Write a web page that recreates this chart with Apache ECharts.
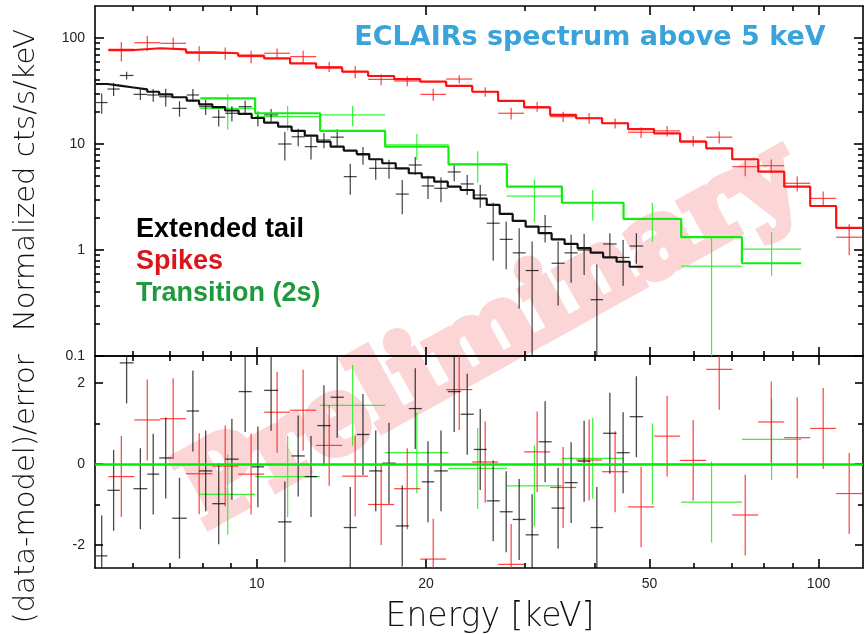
<!DOCTYPE html>
<html>
<head>
<meta charset="utf-8">
<script src="https://cdn.jsdelivr.net/npm/echarts@6/dist/echarts.min.js"></script>
<style>
  html, body { margin: 0; padding: 0; background: #ffffff; }
  #chart { width: 866px; height: 634px; }
</style>
</head>
<body>
<div id="chart"></div>
<script>
// ---- Extended tail (black) ----
const tailEdges = [5.17, 5.42, 5.70, 6.03, 6.38, 6.70, 7.07, 7.50, 7.89, 8.33, 8.78, 9.28, 9.79, 10.30,
  10.91, 11.53, 12.17, 12.81, 13.53, 14.28, 15.06, 15.85, 16.72, 17.67, 18.64, 19.66, 20.69, 21.87,
  23.06, 24.33, 25.66, 27.06, 28.54, 30.10, 31.74, 33.48, 35.31, 37.25, 39.28, 41.35, 43.70, 46.10, 48.72];
const tailFlux = [24.6, 33.0, 44.3, 29.4, 29.0, 27.9, 21.7, 29.0, 22.5, 17.9,
  19.5, 22.5, 17.5, 18.8, 10.0, 11.7, 9.44, 10.9, 11.6, 4.92,
  7.87, 5.90, 5.90, 3.37, 6.34, 4.02, 3.82, 5.45, 4.20, 3.30,
  1.79, 1.26, 0.94, 0.64, 1.66, 0.75, 0.94, 1.00, 0.34, 1.14, 0.85, 1.09];
const tailErr = [5.3, 4.6, 3.8, 3.4, 4.0, 5.3, 3.6, 4.0, 3.7, 3.3,
  3.2, 3.1, 2.8, 2.6, 3.0, 2.2, 2.3, 1.8, 2.2, 1.6,
  1.5, 1.3, 1.2, 1.2, 1.2, 1.0, 1.0, 1.0, 0.9, 0.8,
  1.0, 0.6, 0.66, 0.56, 0.48, 0.45, 0.45, 0.42, 0.39, 0.30, 0.39, 0.35];
const tailModel = [36.8, 35.6, 34.1, 32.7, 31.1, 29.4, 27.6, 25.7, 23.7, 22.3,
  20.7, 19.2, 17.6, 15.9, 14.6, 13.3, 12.0, 10.5, 9.44, 8.65,
  8.05, 7.18, 6.58, 5.90, 5.30, 4.85, 4.41, 3.96, 3.68, 3.06,
  2.66, 2.19, 1.88, 1.66, 1.44, 1.26, 1.14, 1.04, 0.943, 0.853, 0.775, 0.695];
const tailResid = [-2.27, -0.65, 2.5, -0.61, -0.25, 0.15, -1.34, 1.31, -0.17, -0.98,
  0.12, 1.79, -0.07, 1.82, -1.43, 0.2, -0.31, 0.95, 1.65, -1.57,
  0.73, -0.17, 0.02, -1.53, 1.37, -0.44, -0.17, 1.79, 1.23, 0.36,
  -0.91, -1.18, -1.37, -1.75, 0.55, -1.09, -0.46, 0.07, -1.57, 0.76, 0.28, 1.17];

// ---- Spikes (red) ----
const spikeEdges = [5.44, 6.05, 6.73, 7.48, 8.33, 9.26, 10.30, 11.46, 12.75, 14.19, 15.78, 17.56,
  19.54, 21.73, 24.18, 26.89, 29.91, 33.28, 37.02, 41.18, 45.81, 50.96, 56.70, 63.10, 70.20,
  78.10, 86.88, 96.65, 107.5, 119.6];
const spikeFlux = [75.9, 90.3, 89.1, 71.8, 71.8, 66.7, 71.8, 66.7, 53.6, 48.1,
  40.7, 39.3, 29.4, 41.0, 31.1, 19.5, 22.5, 18.1, 17.5, 15.7,
  12.9, 13.3, 10.7, 11.6, 6.11, 6.24, 4.26, 3.07, 1.32];
const spikeErr = [16.0, 14.7, 11.6, 11.7, 9.4, 9.1, 7.8, 9.7, 5.8, 6.3,
  4.9, 4.3, 3.8, 3.6, 3.2, 2.5, 2.4, 2.0, 2.0, 1.7,
  1.5, 1.5, 1.2, 1.5, 1.15, 0.91, 0.69, 0.50, 0.43];
const spikeModel = [77.1, 80.0, 78.2, 73.3, 71.8, 68.1, 64.3, 57.7, 52.5, 48.1,
  43.8, 41.0, 38.7, 35.3, 31.1, 25.5, 22.2, 18.8, 17.5, 15.7,
  13.8, 12.6, 10.5, 9.1, 7.18, 5.48, 3.96, 2.60, 1.62];
const spikeResid = [-0.31, 1.09, 1.12, -0.24, -0.05, -0.25, 1.28, 1.33, 0.46, -0.30,
  -1.00, -0.61, -2.35, 1.84, 0.05, -2.48, 0.30, -0.58, 0.10, -0.19,
  -1.06, 0.69, 0.09, 2.34, -1.26, 1.04, 0.65, 0.88, -0.73];

// ---- Transition, 2 s (green) ----
const transEdges = [7.93, 9.93, 12.96, 16.92, 21.94, 27.87, 34.92, 44.96, 56.95, 73.05, 93.15];
const transFlux = [21.7, 18.1, 18.8, 9.8, 6.43, 3.23, 2.79, 1.99, 0.706, 1.02];
const transErr = [8.0, 4.7, 4.1, 2.7, 2.1, 1.4, 0.9, 0.8, 0.63, 0.45];
const transModel = [27.0, 19.5, 13.3, 9.44, 6.43, 3.96, 2.79, 1.96, 1.32, 0.75];
const transResid = [-0.75, -0.31, 1.45, 0.28, -0.11, -0.54, 0.14, 0.0, -0.94, 0.61];

// ---- Axis ticks and labels ----
const energyMajor = [10, 20, 50, 100];
const energyMinor = [6, 7, 8, 9, 30, 40, 60, 70, 80, 90];
const fluxMajor = [0.1, 1, 10, 100];
const fluxMinor = [0.2, 0.3, 0.4, 0.5, 0.6, 0.7, 0.8, 0.9, 2, 3, 4, 5, 6, 7, 8, 9,
  20, 30, 40, 50, 60, 70, 80, 90];
const residMajor = [-2, 0, 2];
const residMinor = [-1, 1];

const E_MIN = 5.15, E_MAX = 120;
const F_MIN = 0.1, F_MAX = 200.4;
const R_MIN = -2.57, R_MAX = 2.67;

const chart = echarts.init(document.getElementById('chart'), null, { renderer: 'canvas' });

// one cross per bin: [lo, hi, centre, value, error]
function crossItems(edges, vals, errs) {
  return vals.map((v, i) => [edges[i], edges[i + 1], Math.sqrt(edges[i] * edges[i + 1]), v, errs ? errs[i] : 1]);
}
// histogram-style model: flat across each bin
function stepPoints(edges, vals) {
  const pts = [];
  vals.forEach((v, i) => { pts.push([edges[i], v], [edges[i + 1], v]); });
  return pts;
}
function crossSeries(name, items, axisIdx, color, width, logY) {
  return {
    type: 'custom', name, xAxisIndex: axisIdx, yAxisIndex: axisIdx, clip: true, z: 3,
    data: items,
    encode: { x: [0, 1], y: 3 },
    renderItem(params, api) {
      const lo = api.value(0), hi = api.value(1), xc = api.value(2), v = api.value(3), e = api.value(4);
      const low = logY ? Math.max(v - e, F_MIN * 0.3) : v - e;
      const pL = api.coord([lo, v]), pR = api.coord([hi, v]);
      const pT = api.coord([xc, v + e]), pB = api.coord([xc, low]);
      const style = { stroke: color, lineWidth: width };
      return {
        type: 'group', children: [
          { type: 'line', shape: { x1: pL[0], y1: pL[1], x2: pR[0], y2: pR[1] }, style },
          { type: 'line', shape: { x1: pT[0], y1: pT[1], x2: pB[0], y2: pB[1] }, style }
        ]
      };
    }
  };
}
function modelSeries(name, edges, vals, color) {
  return {
    type: 'line', name, xAxisIndex: 0, yAxisIndex: 0, data: stepPoints(edges, vals),
    showSymbol: false, symbol: 'none', z: 4,
    lineStyle: { color, width: 2.2 }
  };
}

const tickFont = { fontFamily: 'Liberation Sans', fontSize: 14, color: '#222' };
const frame = { color: '#000', width: 1.6 };

function xAxisDef(grid, position, ticks, len, withLine, labels) {
  return {
    type: 'log', logBase: 10, gridIndex: grid, position, min: E_MIN, max: E_MAX,
    axisLine: { show: withLine, onZero: false, lineStyle: frame },
    axisTick: { show: true, inside: true, length: len, customValues: ticks, lineStyle: frame },
    axisLabel: labels ? Object.assign({ margin: 9, customValues: labels }, tickFont) : { show: false },
    splitLine: { show: false }
  };
}
function yLogDef(position, ticks, len, withLine, labels) {
  return {
    type: 'log', logBase: 10, gridIndex: 0, position, min: F_MIN, max: F_MAX,
    axisLine: { show: withLine, onZero: false, lineStyle: frame },
    axisTick: { show: true, inside: true, length: len, customValues: ticks, lineStyle: frame },
    axisLabel: labels ? Object.assign({ margin: 10, customValues: labels }, tickFont) : { show: false },
    splitLine: { show: false }
  };
}
function yResDef(position, ticks, len, withLine, labels) {
  return {
    type: 'value', gridIndex: 1, position, min: R_MIN, max: R_MAX,
    axisLine: { show: withLine, onZero: false, lineStyle: frame },
    axisTick: { show: true, inside: true, length: len, customValues: ticks, lineStyle: frame },
    axisLabel: labels ? Object.assign({ margin: 10, customValues: labels }, tickFont) : { show: false },
    splitLine: { show: false }
  };
}

const titleFont = '200 29px "DejaVu Sans"';
const legendFont = 'bold 27px "Liberation Sans"';

const option = {
  animation: false,
  backgroundColor: '#ffffff',
  grid: [
    { left: 95, top: 6, width: 768, height: 350 },
    { left: 95, top: 356, width: 768, height: 212 }
  ],
  xAxis: [
    xAxisDef(0, 'bottom', energyMajor, 9, true, null),
    xAxisDef(0, 'bottom', energyMinor, 5, false, null),
    xAxisDef(0, 'top', energyMajor, 9, true, null),
    xAxisDef(0, 'top', energyMinor, 5, false, null),
    xAxisDef(1, 'bottom', energyMajor, 9, true, energyMajor),
    xAxisDef(1, 'bottom', energyMinor, 5, false, null),
    xAxisDef(1, 'top', energyMajor, 9, true, null),
    xAxisDef(1, 'top', energyMinor, 5, false, null)
  ],
  yAxis: [
    yLogDef('left', fluxMajor, 9, true, fluxMajor),
    yLogDef('left', fluxMinor, 5, false, null),
    yLogDef('right', fluxMajor, 9, true, null),
    yLogDef('right', fluxMinor, 5, false, null),
    yResDef('left', residMajor, 8, true, residMajor),
    yResDef('left', residMinor, 5, false, null),
    yResDef('right', residMajor, 8, true, null),
    yResDef('right', residMinor, 5, false, null)
  ],
  series: [
    // spectra
    crossSeries('Transition (2s)', crossItems(transEdges, transFlux, transErr), 0, 'rgba(40,240,40,0.9)', 1.2, true),
    crossSeries('Spikes', crossItems(spikeEdges, spikeFlux, spikeErr), 0, 'rgba(255,30,30,0.85)', 1.2, true),
    crossSeries('Extended tail', crossItems(tailEdges, tailFlux, tailErr), 0, 'rgba(0,0,0,0.75)', 1.2, true),
    modelSeries('Transition model', transEdges, transModel, '#10ee10'),
    modelSeries('Spikes model', spikeEdges, spikeModel, '#ff1010'),
    modelSeries('Extended tail model', tailEdges, tailModel, '#111111'),
    // residuals
    crossSeries('Transition residuals', crossItems(transEdges, transResid, null), 4, 'rgba(40,240,40,0.9)', 1.2, false),
    crossSeries('Spikes residuals', crossItems(spikeEdges, spikeResid, null), 4, 'rgba(255,30,30,0.85)', 1.2, false),
    crossSeries('Extended tail residuals', crossItems(tailEdges, tailResid, null), 4, 'rgba(0,0,0,0.72)', 1.3, false),
    {
      type: 'line', xAxisIndex: 4, yAxisIndex: 4, data: [], z: 5,
      markLine: {
        silent: true, symbol: 'none', label: { show: false },
        lineStyle: { color: '#00ee00', width: 2.5, type: 'solid' },
        data: [{ yAxis: 0 }]
      }
    }
  ],
  graphic: [
    {
      type: 'text', x: 492, y: 338, rotation: 29 * Math.PI / 180, z: -10, silent: true,
      style: {
        text: 'Preliminary', align: 'center', verticalAlign: 'middle',
        font: 'bold 104px "DejaVu Serif"', fill: '#fcd6d6',
        stroke: '#fcd6d6', lineWidth: 9, lineJoin: 'round'
      }
    },
    {
      type: 'text', x: 590, y: 38, z: 20,
      style: {
        text: 'ECLAIRs spectrum above 5 keV', align: 'center', verticalAlign: 'middle',
        font: 'bold 27px "DejaVu Sans"', fill: '#3aa3da'
      }
    },
    {
      type: 'text', x: 136, y: 230, z: 20,
      style: { text: 'Extended tail', align: 'left', verticalAlign: 'middle', font: legendFont, fill: '#000000' }
    },
    {
      type: 'text', x: 136, y: 262, z: 20,
      style: { text: 'Spikes', align: 'left', verticalAlign: 'middle', font: legendFont, fill: '#d9161c' }
    },
    {
      type: 'text', x: 136, y: 294, z: 20,
      style: { text: 'Transition (2s)', align: 'left', verticalAlign: 'middle', font: legendFont, fill: '#1e9a3c' }
    },
    {
      type: 'text', x: 26, y: 180, rotation: Math.PI / 2, z: 20,
      style: { text: 'Normalized cts/s/keV', align: 'center', verticalAlign: 'middle', font: titleFont, fill: '#111' }
    },
    {
      type: 'text', x: 26, y: 489, rotation: Math.PI / 2, z: 20,
      style: { text: '(data-model)/error', align: 'center', verticalAlign: 'middle', font: titleFont, fill: '#111' }
    },
    {
      type: 'text', x: 490, y: 617, z: 20,
      style: { text: 'Energy [keV]', align: 'center', verticalAlign: 'middle', font: '200 33px "DejaVu Sans"', fill: '#111' }
    }
  ]
};

chart.setOption(option);
</script>
</body>
</html>
